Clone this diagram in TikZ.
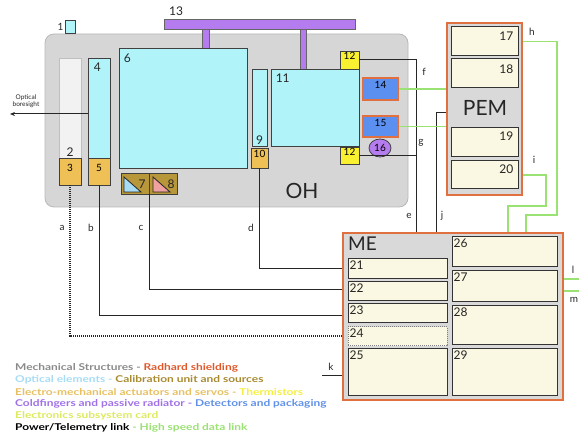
\documentclass[tikz,border=0pt]{standalone}
\usepackage{fontspec}
\setmainfont{Lato}
\usetikzlibrary{fit,arrows.meta,shapes.geometric}
\definecolor{ohgray}{HTML}{D6D6D6}
\definecolor{ohline}{HTML}{B8B8B8}
\definecolor{cyanc}{HTML}{B0F4FA}
\definecolor{pale}{HTML}{F2F2F2}
\definecolor{goldc}{HTML}{EFC055}
\definecolor{calc}{HTML}{B8963A}
\definecolor{yelc}{HTML}{F8F030}
\definecolor{bluec}{HTML}{5B8FF0}
\definecolor{orangec}{HTML}{E07040}
\definecolor{purplec}{HTML}{B47CEE}
\definecolor{cream}{HTML}{FAF8E2}
\definecolor{meg}{HTML}{D9D9D9}
\definecolor{grnc}{HTML}{9AE272}
\definecolor{tribl}{HTML}{A8DCF4}
\definecolor{tripk}{HTML}{EFA0A0}
\definecolor{lgray}{HTML}{8A8A8A}
\definecolor{lred}{HTML}{E0582A}
\definecolor{lcyan}{HTML}{A6DCF5}
\definecolor{lgold}{HTML}{A88A30}
\definecolor{lorange}{HTML}{E8C062}
\definecolor{lyel}{HTML}{F6EE40}
\definecolor{lpurp}{HTML}{A070E8}
\definecolor{lblue}{HTML}{6090E8}
\definecolor{lyg}{HTML}{DDEA5E}
\newcommand\legline[1]{\scalebox{1.27}[1]{#1}}
\begin{document}
\begin{tikzpicture}[x=1pt,y=-1pt,
  bx/.style={draw=black!75, line width=0.9pt, inner sep=0pt},
  cyanbox/.style={bx, fill=cyanc},
  goldbox/.style={bx, fill=goldc},
  yelbox/.style={bx, fill=yelc},
  detbox/.style={draw=orangec, line width=1.3pt, fill=bluec, inner sep=0pt},
  card/.style={draw=black!80, line width=1pt, fill=cream, inner sep=0pt},
  unit/.style={draw=orangec, line width=1.6pt, fill=meg, inner sep=0pt},
  num/.style={font=\fontsize{12}{12}\selectfont, text=black!85, inner sep=2pt},
  tl/.style={num, anchor=north west},
  tr/.style={num, anchor=north east},
  pw/.style={black!85, line width=1pt},
  hs/.style={grnc, line width=1.6pt},
  ltr/.style={font=\fontsize{10}{10}\selectfont, text=black!85, inner sep=1pt},
  leg/.style={anchor=west, inner sep=0pt, font=\fontsize{9.4}{10}\selectfont\bfseries},
]
\useasboundingbox (0,0) rectangle (579,438);
% OH enclosure
\node[draw=ohline, fill=ohgray, rounded corners=9pt, line width=0.8pt, inner sep=0pt, fit={(45,34) (408,207)}] (oh) {};
\node[font=\fontsize{21}{21}\selectfont, text=black!85] (ohl) at (302,191) {OH};
% item 1
\node[cyanbox, fit={(65,20) (75,33)}] (n1) {};
\node[ltr, anchor=east] (n1l) at (n1.west) {1};
% 13 bar
\node[draw=black!60, fill=purplec, line width=0.6pt, inner sep=0pt, fit={(164,19) (355,29)}] (n13) {};
\node[num, anchor=south] (n13l) at (176,18) {13};
\fill[purplec, draw=black!60, line width=0.5pt] (202,29) rectangle (209,48);
\fill[purplec, draw=black!60, line width=0.5pt] (300,29) rectangle (306,70);
% 2,3
\node[bx, draw=black!25, fill=pale, fit={(59,58) (81,158)}] (n2) {};
\node[num, anchor=south] at (n2.south) {2};
\node[goldbox, fit={(59,158) (81,185)}] (n3) {3};
% 4,5
\node[cyanbox, fit={(88,58) (110,158)}] (n4) {};
\node[tl] at ([xshift=4pt,yshift=-3pt]n4.north west) {4};
\node[goldbox, fit={(88,158) (110,185)}] (n5) {5};
% 6
\node[cyanbox, fit={(119,48) (247,168)}] (n6) {};
\node[tl] at ([xshift=3pt,yshift=-4pt]n6.north west) {6};
% calibration 7,8
\node[bx, fill=calc, fit={(121,173) (149,194)}] (n7) {};
\node[bx, fill=calc, fit={(149,173) (177,194)}] (n8) {};
\filldraw[fill=tribl, draw=black!85, line width=0.8pt] (124,177) -- (124,192) -- (141,192) -- cycle;
\filldraw[fill=tripk, draw=black!85, line width=0.8pt] (153,177) -- (153,192) -- (170,192) -- cycle;
\node[num] at (142,184) {7};
\node[num] at (171,184) {8};
% 9,10
\node[cyanbox, fit={(252,69) (267,146)}] (n9) {};
\node[num, anchor=south] at (n9.south) {9};
\node[goldbox, fit={(251,148) (268,168)}] (n10) {10};
% 11
\node[cyanbox, fit={(271,69) (359,146)}] (n11) {};
\node[tl] at ([xshift=3pt,yshift=-3pt]n11.north west) {11};
% 12
\node[yelbox, fit={(340,51) (359,69)}] (n12a) {12};
\node[yelbox, fit={(340,147) (359,164)}] (n12b) {12};
% 14,15,16
\node[detbox, fit={(363,78) (398,100)}] (n14) {14};
\node[detbox, fit={(363,116) (398,137)}] (n15) {15};
\node[draw=black!75, fill=purplec, line width=0.8pt, ellipse, minimum width=22pt, minimum height=18pt, inner sep=0pt] (n16) at (380,148) {16};
% PEM
\node[unit, fit={(447,23) (522,195)}] (pem) {};
\node[font=\fontsize{21}{21}\selectfont, text=black!85] (peml) at (485,108) {PEM};
\node[card, fit={(451,27) (518,56)}] (n17) {};
\node[tr] at ([xshift=-3pt,yshift=-3pt]n17.north east) {17};
\node[card, fit={(451,59) (518,88)}] (n18) {};
\node[tr] at ([xshift=-3pt,yshift=-4pt]n18.north east) {18};
\node[card, fit={(451,128) (518,157)}] (n19) {};
\node[tr] at ([xshift=-3pt,yshift=-2pt]n19.north east) {19};
\node[card, fit={(451,161) (518,189)}] (n20) {};
\node[tr] at ([xshift=-3pt,yshift=-2pt]n20.north east) {20};
% ME
\node[unit, fit={(343,233) (563,400)}] (me) {};
\node[font=\fontsize{19}{19}\selectfont, text=black!85, anchor=north west, inner sep=0pt] (mel) at (348,237) {ME};
\node[card, fit={(348,259) (447,279)}] (n21) {};
\node[tl] at (n21.north west) {21};
\node[card, fit={(348,282) (447,301)}] (n22) {};
\node[tl] at (n22.north west) {22};
\node[card, fit={(348,304) (447,323)}] (n23) {};
\node[tl] at (n23.north west) {23};
\node[card, draw=black!50, densely dotted, fit={(348,327) (447,346)}] (n24) {};
\node[tl] at (n24.north west) {24};
\node[card, fit={(348,349) (447,396)}] (n25) {};
\node[tl] at (n25.north west) {25};
\node[card, fit={(452,237) (557,267)}] (n26) {};
\node[tl] at (n26.north west) {26};
\node[card, fit={(452,271) (557,302)}] (n27) {};
\node[tl] at (n27.north west) {27};
\node[card, fit={(452,306) (557,345)}] (n28) {};
\node[tl] at (n28.north west) {28};
\node[card, fit={(452,349) (557,396)}] (n29) {};
\node[tl] at (n29.north west) {29};
% coordinates
\coordinate (ex) at (416,0);
\coordinate (jx) at (436,113);
\coordinate (bs) at (10,114);
\coordinate (ay) at (0,336);
\coordinate (by) at (0,316);
\coordinate (cy) at (0,290);
\coordinate (dy) at (0,269);
\coordinate (kx) at (322,376);
\coordinate (lx) at (579,279);
\coordinate (mx) at (579,291);
\coordinate (hx) at (557,215);
\coordinate (hd) at (526,0);
\coordinate (ix) at (546,206);
\coordinate (id) at (508,0);
% connectors
\draw[pw, -{Stealth[length=5pt,width=4pt]}] (n4.west |- bs) -- (bs);
\draw[pw] (n12a.east) -- (n12a.east -| ex) -- (me.north -| ex);
\draw[pw] (n12b.east) -- (n12b.east -| ex);
\draw[pw] (pem.west |- jx) -- (jx) -- (me.north -| jx);
\draw[pw] (n10.south) |- (dy -| me.west);
\draw[pw] (n7.south east) |- (cy -| me.west);
\draw[pw] (n5.south) |- (by -| me.west);
\draw[pw, densely dotted, line width=1.2pt] (n3.south) |- (ay -| me.west);
\draw[pw] (kx) -- (kx -| me.west);
\draw[hs] (n14.east) -- (n14.east -| pem.west);
\draw[hs] (n15.east) -- (n15.east -| pem.west);
\draw[hs] (n17.east -| pem.east) -| (hx) -| (me.north -| hd);
\draw[hs] (n20.east -| pem.east) -| (ix) -| (me.north -| id);
\draw[hs] (me.east |- lx) -- (lx);
\draw[hs] (me.east |- mx) -- (mx);
% connector letters
\node[ltr] at (62,228) {a};
\node[ltr] at (91,228) {b};
\node[ltr] at (141,228) {c};
\node[ltr] at (251,228) {d};
\node[ltr] at (409,216) {e};
\node[ltr] at (442,216) {j};
\node[ltr] at (424,72) {f};
\node[ltr] at (421,143) {g};
\node[ltr] at (532,32) {h};
\node[ltr] at (534,160) {i};
\node[ltr] at (331,367) {k};
\node[ltr] at (573,270) {l};
\node[ltr] at (574,300) {m};
% optical boresight
\node[font=\fontsize{6.5}{7.5}\selectfont, align=center, text=black!85, inner sep=0pt] at (26,101) {Optical\\boresight};
% legend
\node[leg] (lg1) at (15,368) {\legline{\textcolor{lgray}{Mechanical Structures - }\textcolor{lred}{Radhard shielding}}};
\node[leg] (lg2) at (15,380) {\legline{\textcolor{lcyan}{Optical elements - }\textcolor{lgold}{Calibration unit and sources}}};
\node[leg] (lg3) at (15,392) {\legline{\textcolor{lorange}{Electro-mechanical actuators and servos - }\textcolor{lyel}{Thermistors}}};
\node[leg] (lg4) at (15,404) {\legline{\textcolor{lpurp}{Coldfingers and passive radiator - }\textcolor{lblue}{Detectors and packaging}}};
\node[leg] (lg5) at (15,416) {\legline{\textcolor{lyg}{Electronics subsystem card}}};
\node[leg] (lg6) at (15,428) {\legline{\textcolor{black}{Power/Telemetry link }\textcolor{grnc}{- High speed data link}}};
\end{tikzpicture}
\end{document}
